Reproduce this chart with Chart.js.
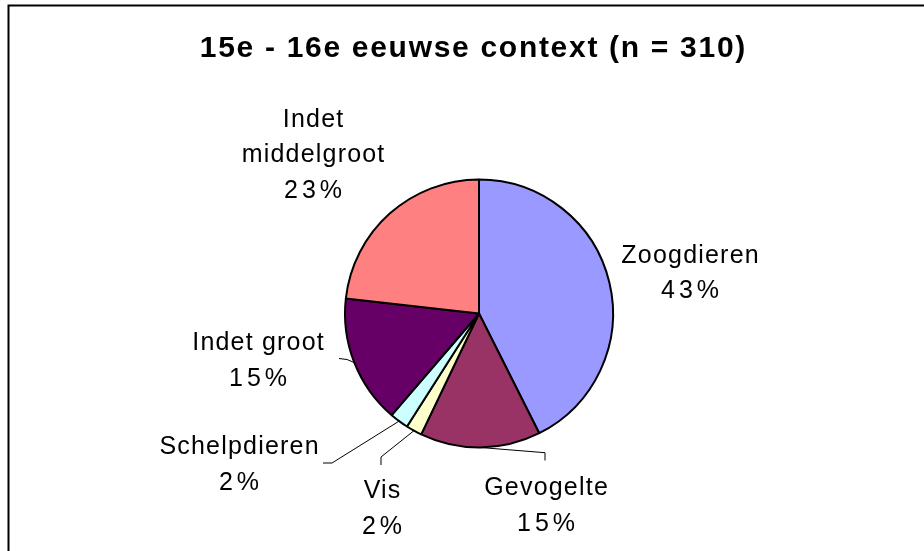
<!DOCTYPE html>
<html>
<head>
<meta charset="utf-8">
<script src="https://cdn.jsdelivr.net/npm/chart.js@4.4.1/dist/chart.umd.min.js"></script>
<style>
  body { margin: 0; background: #fff; }
  canvas { display: block; }
</style>
</head>
<body>
<canvas id="myChart" width="924" height="551"></canvas>
<script>
// Chart data (n = 310)
const chartTitle = "15e - 16e eeuwse context (n = 310)";
const categories = ["Zoogdieren", "Gevogelte", "Vis", "Schelpdieren", "Indet groot", ["Indet", "middelgroot"]];
const counts = [132, 45, 6, 7, 48, 72];
const sliceColors = ["#9999FF", "#993366", "#FFFFCC", "#CCFFFF", "#660066", "#FF8080"];

// Label placement, as offsets from the pie centre (first baseline, centre x)
const labelOffsets = [[211, -51], [67, 181.5], [-97, 184.5], [-240, 140.5], [-221, 36.5], [-166, -187]];
// Leader line bends, from label end towards the slice
const leaderBends = [[], [[66, 147], [66, 139.2]], [[-98, 151.5], [-98, 143.5]], [[-156, 149.5], [-147, 149.5]], [[-140, 45], [-132, 46]], []];

const fontFamily = "'Liberation Sans', Arial, sans-serif";
const lineGap = 35.7;

const total = counts.reduce((a, b) => a + b, 0);

// draw text with letter spacing, centred on x
const spacedText = (ctx, text, x, y, spacing) => {
  ctx.letterSpacing = spacing + "px";
  const w = ctx.measureText(text).width;
  ctx.textAlign = "left";
  ctx.fillText(text, x - (w - spacing) / 2, y);
};

// plugin for the frame, title, labels and leader lines
const piLabels = {
  id: "piLabels",
  afterDraw(chart) {
    const ctx = chart.ctx;
    const arcs = chart.getDatasetMeta(0).data;
    const cx = arcs[0].x;
    const cy = arcs[0].y;

    ctx.save();
    // outer frame
    ctx.strokeStyle = "#000";
    ctx.lineWidth = 2;
    ctx.strokeRect(8.5, 5.5, 930, 600);

    // title
    ctx.fillStyle = "#000";
    ctx.textBaseline = "alphabetic";
    ctx.font = "bold 30px " + fontFamily;
    spacedText(ctx, chartTitle, 472.5, 57, 1.7);

    // leader lines
    ctx.lineWidth = 1;
    ctx.letterSpacing = "0px";
    arcs.forEach((arc, i) => {
      const bends = leaderBends[i];
      if (!bends.length) return;
      const mid = (arc.startAngle + arc.endAngle) / 2;
      const ax = cx + Math.cos(mid) * arc.outerRadius;
      const ay = cy + Math.sin(mid) * arc.outerRadius;
      ctx.beginPath();
      ctx.moveTo(cx + bends[0][0], cy + bends[0][1]);
      for (let k = 1; k < bends.length; k++) {
        ctx.lineTo(cx + bends[k][0], cy + bends[k][1]);
      }
      ctx.lineTo(ax, ay);
      ctx.stroke();
    });

    // slice labels: name lines, then the percentage (wider tracking)
    ctx.font = "25px " + fontFamily;
    categories.forEach((cat, i) => {
      const lines = Array.isArray(cat) ? cat : [cat];
      const pct = Math.round(counts[i] / total * 100) + "%";
      const x = cx + labelOffsets[i][0];
      let y = cy + labelOffsets[i][1];
      lines.forEach((line) => {
        spacedText(ctx, line, x, y, 1.2);
        y += lineGap;
      });
      spacedText(ctx, pct, x, y, 4);
    });
    ctx.restore();
  }
};

const ctx = document.getElementById("myChart").getContext("2d");
const myChart = new Chart(ctx, {
  type: "pie",
  data: {
    labels: categories,
    datasets: [
      {
        data: counts,
        backgroundColor: sliceColors,
        borderColor: "#000",
        borderWidth: 2,
      },
    ],
  },
  options: {
    responsive: false,
    animation: false,
    layout: {
      padding: { top: 178.5, bottom: 102.5, left: 200, right: 166 },
    },
    plugins: {
      legend: { display: false },
      tooltip: { enabled: false },
      title: { display: false },
    },
  },
  plugins: [piLabels],
});
</script>
</body>
</html>
